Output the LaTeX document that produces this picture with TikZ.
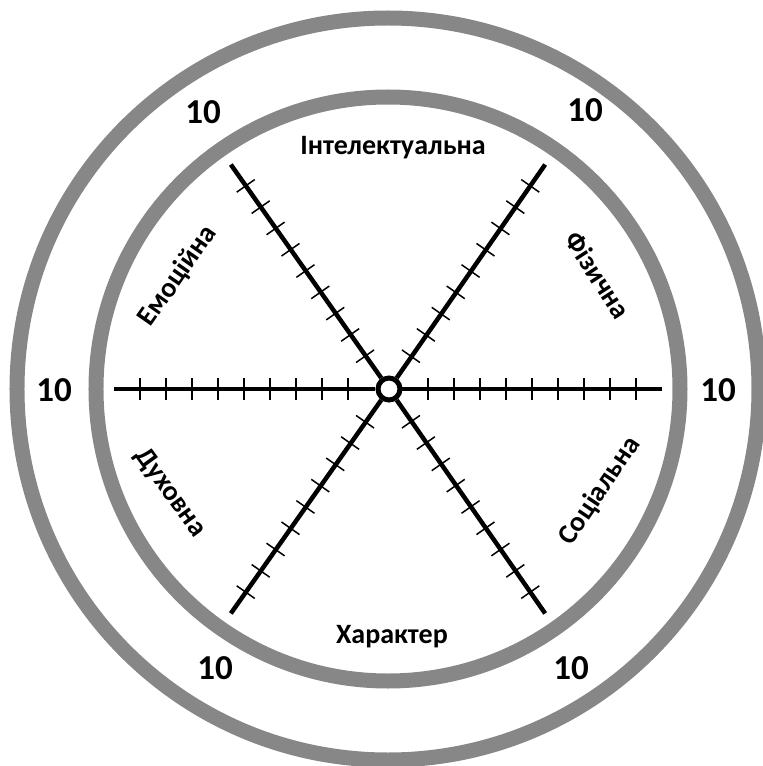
\documentclass[tikz,border=0pt]{standalone}
\usepackage{fontspec}
\setmainfont{Carlito}
\definecolor{ringgray}{RGB}{135,135,135}
\tikzset{
  ring/.style={draw=ringgray, line width=15pt},
  arm/.style={line width=4.5pt},
  armtick/.style={line width=1.5pt},
  score/.style={font=\fontsize{35}{35}\selectfont\bfseries},
  area/.style={font=\fontsize{28}{28}\selectfont\bfseries}
}
\begin{document}
\begin{tikzpicture}[x=1pt,y=1pt]
\useasboundingbox (-388,-377) rectangle (375,389);
        %kola
        \draw[ring] (0,0) circle (371);
        \draw[ring] (0,0) circle (292);
        %centr
        \node[circle, draw, line width=5pt, minimum size=22pt, inner sep=0pt] (hub) at (1,0) {};
        %osi
        \foreach \a in {0,55,125,180,235,305}{
            \coordinate (e\a) at (\a:274);
            \draw[arm] (hub) -- (e\a);
            \foreach \k in {1,...,9}
                \draw[armtick] (\a:{14+26*\k}) ++(\a+90:11) -- ++(\a-90:22);
        }
        %bali
        \node[score] (s1) at (-185,277) {10};
        \node[score] (s2) at (197,279) {10};
        \node[score] (s3) at (-334,-1) {10};
        \node[score] (s4) at (330,-1) {10};
        \node[score] (s5) at (-173,-279) {10};
        \node[score] (s6) at (183,-279) {10};
        %sfery
        \node[area] (intel) at (5,241) {Інтелектуальна};
        \node[area] (fiz) at (210,114) [rotate=-57] {Фізична};
        \node[area] (soc) at (212,-102) [rotate=56] {Соціальна};
        \node[area] (khar) at (4,-248) {Характер};
        \node[area] (dukh) at (-218,-104) [rotate=-54] {Духовна};
        \node[area] (emo) at (-210,113) [rotate=55] {Емоційна};
\end{tikzpicture}
\end{document}
